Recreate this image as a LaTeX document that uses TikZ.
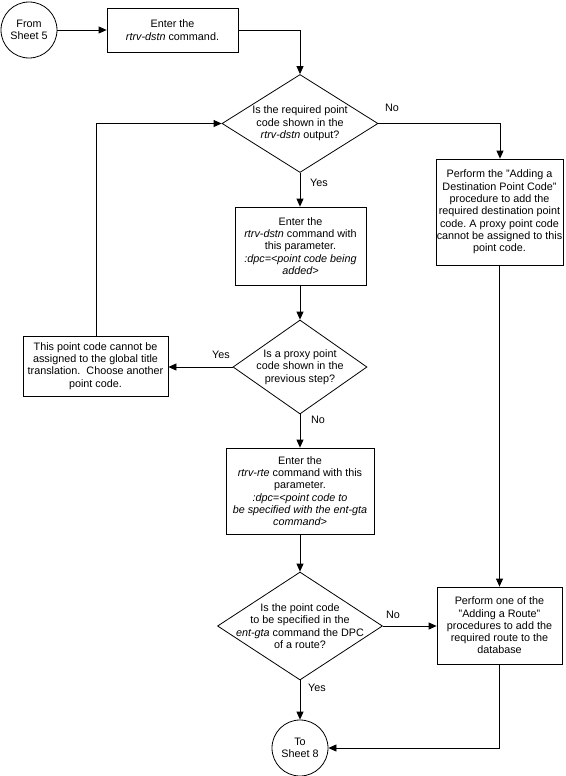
\documentclass[tikz,border=0pt]{standalone}
\usepackage{fontspec}
\setmainfont{Liberation Sans}
\usetikzlibrary{arrows.meta,shapes.geometric}
\frenchspacing
\begin{document}
\begin{tikzpicture}[x=1pt,y=-1pt,
  every node/.style={font=\fontsize{10.8}{12.3}\selectfont},
  base/.style={draw=black,line width=0.8pt,inner sep=0pt,align=center},
  procbox/.style={base,rectangle},
  term/.style={base,circle,minimum size=56pt},
  dia/.style={base,diamond},
  dtext/.style={align=center,inner sep=0pt},
  lbl/.style={inner sep=0pt},
  conn/.style={line width=0.8pt,-{Triangle[length=8pt,width=7pt]}},
  plain/.style={line width=0.8pt}]
\useasboundingbox (0,0) rectangle (565,776);
\fill[white] (0,0) rectangle (565,776);

\node[term] (from) at (29,30) {From\\Sheet 5};
\node[procbox,minimum width=131pt,minimum height=44pt] (b1) at (172.5,30) {Enter the\\\textit{rtrv-dstn} command.};

\node[dia,minimum width=156pt,minimum height=98pt] (d1) at (300,123.5) {};
\node[dtext] (d1t) at (d1.center) {Is the required point\\code shown in the\\\textit{rtrv-dstn} output?};

\node[procbox,minimum width=131pt,minimum height=78pt] (b2) at (300.5,246) {Enter the\\\textit{rtrv-dstn} command with\\this parameter.\\\textit{:dpc=<point code being}\\\textit{added>}};

\node[procbox,minimum width=127pt,minimum height=106pt] (b3) at (499.5,212) {Perform the "Adding a\\Destination Point Code"\\procedure to add the\\required destination point\\code. A proxy point code\\cannot be assigned to this\\point code.};

\node[dia,minimum width=134pt,minimum height=94pt] (d2) at (300,367) {};
\node[dtext] (d2t) at (d2.center) {Is a proxy point\\code shown in the\\previous step?};

\node[procbox,minimum width=145pt,minimum height=60pt] (b4) at (95.5,366) {This point code cannot be\\assigned to the global title\\translation.\ \ Choose another\\point code.};

\node[procbox,minimum width=148pt,minimum height=86pt] (b5) at (300,491) {Enter the\\\textit{rtrv-rte} command with this\\parameter.\\\textit{:dpc=<point code to}\\\textit{be specified with the ent-gta}\\\textit{command>}};

\node[dia,minimum width=165pt,minimum height=108pt] (d3) at (300,626) {};
\node[dtext] (d3t) at (d3.center) {Is the point code\\to be specified in the\\\textit{ent-gta} command the DPC\\of a route?};

\node[procbox,minimum width=125pt,minimum height=77pt] (b6) at (499.5,625.5) {Perform one of the\\"Adding a Route"\\procedures to add the\\required route to the\\database};

\node[term] (to) at (300,748) {To\\Sheet 8};

\coordinate (c1) at (300,30);
\coordinate (c2) at (500,123.5);
\coordinate (c3) at (96,123.5);
\coordinate (c4) at (499.5,748);

\draw[conn] (from) -- (b1);
\draw[conn] (b1.east) -- (c1) -- (d1.north);
\draw[conn] (d1.east) -- (c2) -- (b3.north -| c2);
\draw[conn] (d1.south) -- (b2.north -| d1.south);
\draw[conn] (b2.south -| d2.north) -- (d2.north);
\draw[conn] (d2.west) -- (b4.east |- d2.west);
\draw[conn] (b4.north -| c3) -- (c3) -- (d1.west);
\draw[conn] (d2.south) -- (b5.north -| d2.south);
\draw[conn] (b5.south -| d3.north) -- (d3.north);
\draw[conn] (d3.east) -- (b6.west |- d3.east);
\draw[conn] (b3.south) -- (b6.north);
\draw[conn] (d3.south) -- (to.north);
\draw[conn] (b6.south) -- (c4) -- (to.east);

\node[lbl] (l1) at (392,108) {No};
\node[lbl] (l2) at (319,183) {Yes};
\node[lbl] (l3) at (221,355) {Yes};
\node[lbl] (l4) at (318,420) {No};
\node[lbl] (l5) at (393,615) {No};
\node[lbl] (l6) at (317,688) {Yes};
\end{tikzpicture}
\end{document}
